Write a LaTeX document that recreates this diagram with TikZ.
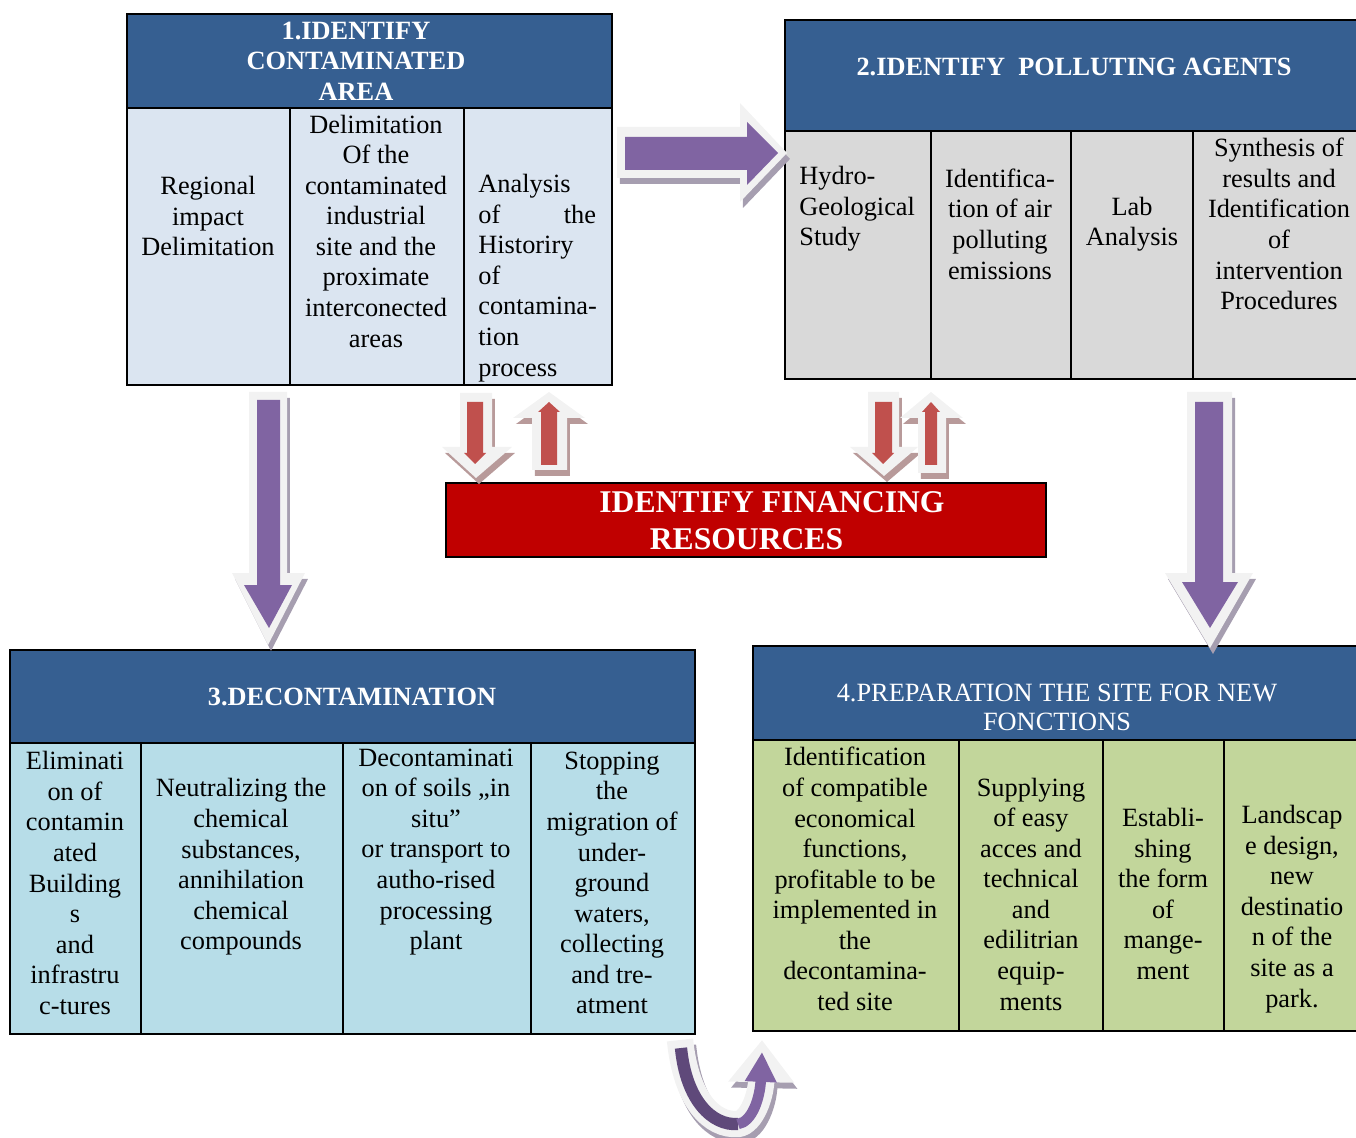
\documentclass[tikz,border=0pt]{standalone}
\usepackage{fontspec}
\setmainfont{Liberation Serif}
\usetikzlibrary{arrows.meta,shadows}

\definecolor{hdrblue}{HTML}{365F91}
\definecolor{pale1}{HTML}{DBE5F1}
\definecolor{pale2}{HTML}{D9D9D9}
\definecolor{pale3}{HTML}{B7DDE8}
\definecolor{pale4}{HTML}{C2D69B}
\definecolor{finred}{HTML}{C00000}
\definecolor{arrpurple}{HTML}{8064A2}
\definecolor{arrdark}{HTML}{5F497A}
\definecolor{arrred}{HTML}{C0504D}
\definecolor{arrlight}{HTML}{F2F2F2}
\definecolor{shadepurple}{HTML}{A69EB0}
\definecolor{shadered}{HTML}{B89A9A}

\tikzset{
  txt/.style={font=\fontsize{15pt}{17.4pt}\selectfont, inner sep=0pt, align=center},
  hdr/.style={font=\fontsize{15pt}{17.4pt}\selectfont\bfseries, text=white, inner sep=0pt, align=center},
  hdrplain/.style={font=\fontsize{15pt}{16.5pt}\selectfont, text=white, inner sep=0pt, align=center},
  grid/.style={draw=black, line width=1pt},
  shell/.style={fill=arrlight, general shadow={fill=#1, shadow xshift=1.7pt, shadow yshift=-3.4pt}},
}

\begin{document}
\begin{tikzpicture}[x=0.02cm, y=-0.02cm]
\useasboundingbox (0,0) rectangle (1356,1138);

%%% 1. CONTAMINATED AREA
\path[grid, fill=hdrblue] (127,14) rectangle (612,108);
\path[grid, fill=pale1] (127,108) rectangle (612,385);
\path[grid] (290,108) -- (290,385) (464,108) -- (464,385);
\node[hdr] (h1) at (356,61) {1.IDENTIFY\\CONTAMINATED\\AREA};
\node[txt] (c11) at (208,216) {Regional\\impact\\Delimitation};
\node[txt] (c12) at (376,231) {Delimitation\\Of the\\contaminated\\industrial\\site and the\\proximate\\interconected\\areas};
\node[txt, align=left, anchor=west] (c13) at (478,278) {Analysis\\\makebox[67pt][s]{of\hfill the}\\Historiry\\of\\contamina-\\tion\\process};

%%% 2. POLLUTING AGENTS
\path[grid, fill=hdrblue] (785,20) rectangle (1362,131);
\path[grid, fill=pale2] (785,131) rectangle (1362,379);
\path[grid] (931,131) -- (931,379) (1071,131) -- (1071,379) (1193,131) -- (1193,379);
\node[hdr] (h2) at (1074,67) {2.IDENTIFY\ \ POLLUTING AGENTS};
\node[txt, align=left, anchor=west] (c21) at (799,209) {Hydro-\\Geological\\Study};
\node[txt] (c22) at (1000,224) {Identifica-\\tion of air\\polluting\\emissions};
\node[txt] (c23) at (1132,224) {Lab\\Analysis};
\node[txt] (c24) at (1279,224) {Synthesis of\\results and\\Identification\\of\\intervention\\Procedures};

%%% FINANCING
\path[grid, fill=finred] (446,483) rectangle (1046,557);
\node[hdr, font=\fontsize{18pt}{21pt}\selectfont\bfseries] (fin) at (772,521) {IDENTIFY FINANCING\\RESOURCES\hspace*{29pt}};

%%% 3. DECONTAMINATION
\path[grid, fill=hdrblue] (10,650) rectangle (695,743);
\path[grid, fill=pale3] (10,743) rectangle (695,1034);
\path[grid] (141,743) -- (141,1034) (343,743) -- (343,1034) (531,743) -- (531,1034);
\node[hdr] (h3) at (352,697) {3.DECONTAMINATION};
\node[txt] (c31) at (75,883) {Eliminati\\on of\\contamin\\ated\\Building\\s\\and\\infrastru\\c-tures};
\node[txt] (c32) at (241,867) {Neutralizing the\\chemical\\substances,\\annihilation\\chemical\\compounds};
\node[txt] (c33) at (436,852) {Decontaminati\\on of soils „in\\situ”\\or transport to\\autho-rised\\processing\\plant};
\node[txt] (c34) at (612,883) {Stopping\\the\\migration of\\under-\\ground\\waters,\\collecting\\and tre-\\atment};

%%% 4. NEW FUNCTIONS
\path[grid, fill=hdrblue] (753,646) rectangle (1362,740);
\path[grid, fill=pale4] (753,740) rectangle (1362,1031);
\path[grid] (959,740) -- (959,1031) (1103,740) -- (1103,1031) (1224,740) -- (1224,1031);
\node[hdrplain] (h4) at (1057,707) {4.PREPARATION THE SITE FOR NEW\\FONCTIONS};
\node[txt] (c41) at (855,879) {Identification\\of compatible\\economical\\functions,\\profitable to be\\implemented in\\the\\decontamina-\\ted site};
\node[txt] (c42) at (1031,894) {Supplying\\of easy\\acces and\\technical\\and\\edilitrian\\equip-\\ments};
\node[txt] (c43) at (1163,894) {Establi-\\shing\\the form\\of\\mange-\\ment};
\node[txt] (c44) at (1292,909) {Landscap\\e design,\\new\\destinatio\\n of the\\site as a\\park.};

%%% BIG ARROWS
\path[shell=shadepurple] (617,127) -- (740,127) -- (740,103) -- (787,153) -- (740,202) -- (740,178) -- (617,178) -- cycle;
\path[fill=arrpurple] (625,137) -- (747,137) -- (747,122) -- (778,153) -- (747,185) -- (747,170) -- (625,170) -- cycle;
\path[shell=shadepurple] (249,392) -- (287,392) -- (287,573) -- (305,573) -- (268,645) -- (232,573) -- (249,573) -- cycle;
\path[fill=arrpurple] (257,400) -- (280,400) -- (280,585) -- (292,585) -- (269,628) -- (244,585) -- (257,585) -- cycle;
\path[shell=shadepurple] (1187,392) -- (1232,392) -- (1232,573) -- (1253,573) -- (1210,648) -- (1165,573) -- (1187,573) -- cycle;
\path[fill=arrpurple] (1195,402) -- (1223,402) -- (1223,582) -- (1238,582) -- (1210,628) -- (1182,582) -- (1195,582) -- cycle;

%%% RED ARROWS
\path[shell=shadered] (460,393) -- (492,393) -- (492,447) -- (512,447) -- (476,478) -- (442,447) -- (460,447) -- cycle;
\path[fill=arrred] (467,402) -- (483,402) -- (483,453) -- (486,453) -- (475,464) -- (464,453) -- (467,453) -- cycle;
\path[shell=shadered] (549,392) -- (585,418) -- (567,418) -- (567,470) -- (532,470) -- (532,418) -- (513,418) -- cycle;
\path[fill=arrred] (549,402) -- (560,412) -- (557,412) -- (557,465) -- (541,465) -- (541,412) -- (538,412) -- cycle;
\path[shell=shadered] (868,392) -- (899,392) -- (899,447) -- (918,447) -- (884,476) -- (850,447) -- (868,447) -- cycle;
\path[fill=arrred] (875,402) -- (892,402) -- (892,453) -- (894,453) -- (883,464) -- (872,453) -- (875,453) -- cycle;
\path[shell=shadered] (931,392) -- (963,418) -- (946,418) -- (946,473) -- (918,473) -- (918,418) -- (900,418) -- cycle;
\path[fill=arrred] (931,402) -- (940,412) -- (937,412) -- (937,465) -- (925,465) -- (925,412) -- (922,412) -- cycle;

%%% U-TURN
\path[draw=shadepurple, line width=15pt, shift={(3,6)}, -{Triangle[length=24pt, width=36pt]}] (680,1040) .. controls (686,1100) and (712,1126) .. (738,1124) .. controls (752,1122) and (761,1095) .. (762,1040);
\path[draw=arrlight, line width=15pt, -{Triangle[length=24pt, width=36pt]}] (680,1040) .. controls (686,1100) and (712,1126) .. (738,1124) .. controls (752,1122) and (761,1095) .. (762,1040);
\path[draw=arrdark, line width=7pt] (681,1048) .. controls (686,1100) and (712,1126) .. (738,1124);
\path[draw=arrpurple, line width=6pt, -{Triangle[length=17pt, width=17pt]}] (738,1124) .. controls (752,1122) and (760,1098) .. (762,1052);
\end{tikzpicture}
\end{document}
